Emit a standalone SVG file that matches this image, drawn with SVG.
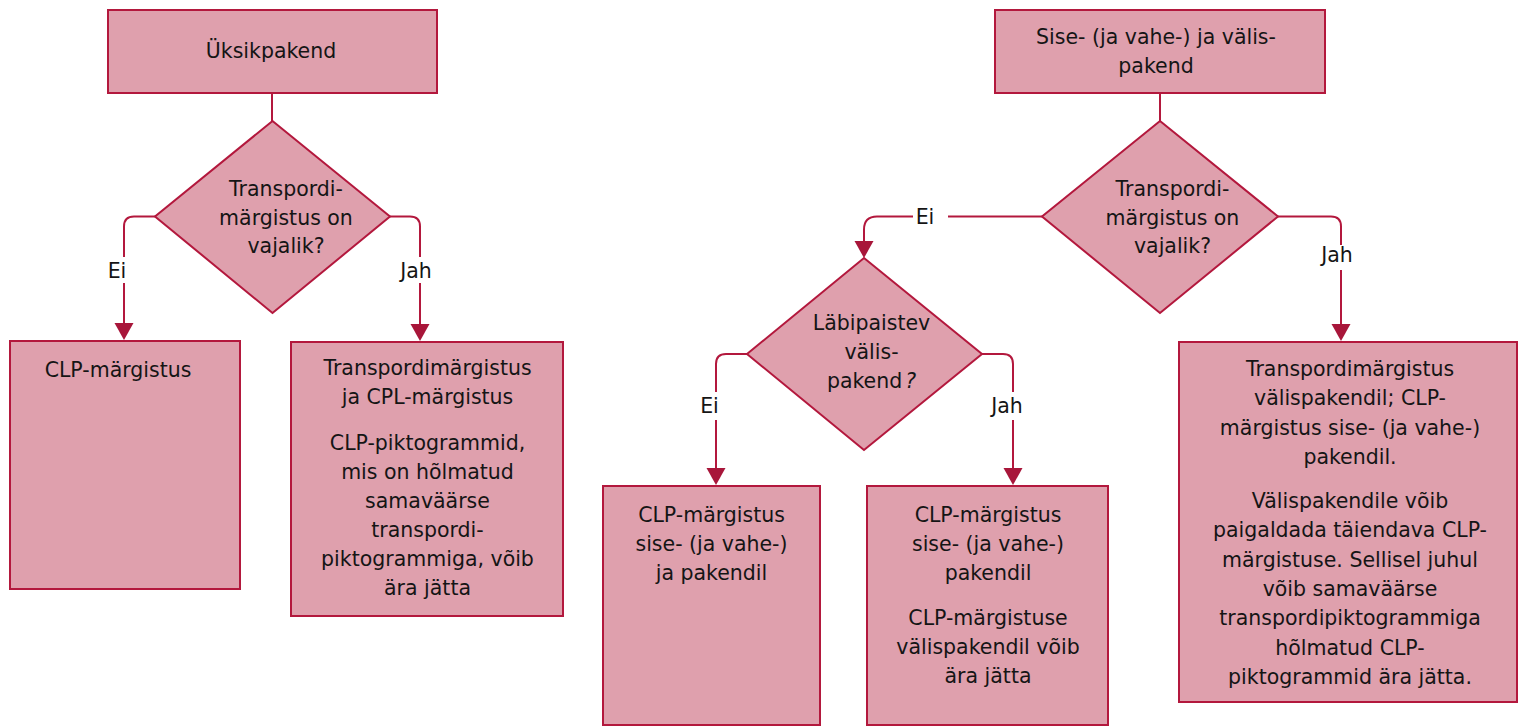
<svg xmlns="http://www.w3.org/2000/svg" width="1524" height="727" viewBox="0 0 1524 727">
<style>
.box{fill:#DFA0AD;stroke:#B3183D;stroke-width:2}
.ln{fill:none;stroke:#B3183D;stroke-width:2}
.t{font-family:"DejaVu Sans","Liberation Sans",sans-serif;font-size:20.5px;fill:#151515;text-anchor:middle}
</style>
<defs>
<marker id="ah" markerUnits="userSpaceOnUse" markerWidth="20" markerHeight="20" viewBox="0 0 18 20" refX="0" refY="10" orient="auto">
<path d="M0,0.5 L17,10 L0,19.5 z" fill="#A8163A"/>
</marker>
</defs>
<g id="connectors">
<path class="ln" d="M272,93 V121"/>
<path class="ln" d="M155,216.5 H134 Q124,216.5 124,226.5 V257"/>
<path class="ln" d="M124,283 V323" marker-end="url(#ah)"/>
<path class="ln" d="M390,216.5 H410 Q420,216.5 420,226.5 V257"/>
<path class="ln" d="M420,283 V324" marker-end="url(#ah)"/>
<path class="ln" d="M1160,93 V121"/>
<path class="ln" d="M1278,216.5 H1331 Q1341,216.5 1341,226.5 V245"/>
<path class="ln" d="M1341,270 V324" marker-end="url(#ah)"/>
<path class="ln" d="M1042,216.5 H948"/>
<path class="ln" d="M913,216.5 H877 Q864,216.5 864,229.5 V241" marker-end="url(#ah)"/>
<path class="ln" d="M747,354 H726 Q716,354 716,364 V392"/>
<path class="ln" d="M716,420 V468" marker-end="url(#ah)"/>
<path class="ln" d="M982,354 H1003 Q1013,354 1013,364 V392"/>
<path class="ln" d="M1013,420 V468" marker-end="url(#ah)"/>
<text class="t" x="117" y="278">Ei</text>
<text class="t" x="416" y="278">Jah</text>
<text class="t" x="1337" y="262">Jah</text>
<text class="t" x="925" y="224">Ei</text>
<text class="t" x="709.5" y="413">Ei</text>
<text class="t" x="1007" y="413">Jah</text>
</g>
<g id="n-uksikpakend">
<rect class="box" x="108" y="10" width="329" height="83"/>
<text class="t" x="271" y="58">Üksikpakend</text>
</g>
<g id="n-d1">
<polygon class="box" points="272.5,121 390,216.5 272.5,313 155,216.5"/>
<text class="t" x="286" y="196">Transpordi-</text>
<text class="t" x="286" y="224.5">märgistus on</text>
<text class="t" x="286" y="252.5">vajalik?</text>
</g>
<g id="n-clp1">
<rect class="box" x="10" y="341" width="230" height="248"/>
<text class="t" x="118" y="377">CLP-märgistus</text>
</g>
<g id="n-trans1">
<rect class="box" x="291" y="342" width="272" height="274"/>
<text class="t" x="427.5" y="375">Transpordimärgistus</text>
<text class="t" x="427.5" y="404">ja CPL-märgistus</text>
<text class="t" x="427.5" y="450">CLP-piktogrammid,</text>
<text class="t" x="427.5" y="479">mis on hõlmatud</text>
<text class="t" x="427.5" y="508">samaväärse</text>
<text class="t" x="427.5" y="537">transpordi-</text>
<text class="t" x="427.5" y="566">piktogrammiga, võib</text>
<text class="t" x="427.5" y="595">ära jätta</text>
</g>
<g id="n-sise">
<rect class="box" x="995" y="10" width="330" height="83"/>
<text class="t" x="1156" y="44">Sise- (ja vahe-) ja välis-</text>
<text class="t" x="1156" y="73">pakend</text>
</g>
<g id="n-d2">
<polygon class="box" points="1160,121 1278,216.5 1160,313 1042,216.5"/>
<text class="t" x="1172.5" y="196">Transpordi-</text>
<text class="t" x="1172.5" y="224.5">märgistus on</text>
<text class="t" x="1172.5" y="252.5">vajalik?</text>
</g>
<g id="n-d3">
<polygon class="box" points="864,258 982,354 864,450 747,354"/>
<text class="t" x="871.5" y="330">Läbipaistev</text>
<text class="t" x="871.5" y="359">välis-</text>
<text class="t" x="871.5" y="388">pakend<tspan dx="3" font-style="italic">?</tspan></text>
</g>
<g id="n-clp2">
<rect class="box" x="603" y="486" width="217" height="239"/>
<text class="t" x="711.5" y="522">CLP-märgistus</text>
<text class="t" x="711.5" y="551">sise- (ja vahe-)</text>
<text class="t" x="711.5" y="580">ja pakendil</text>
</g>
<g id="n-clp3">
<rect class="box" x="867" y="486" width="241" height="239"/>
<text class="t" x="988" y="522">CLP-märgistus</text>
<text class="t" x="988" y="551">sise- (ja vahe-)</text>
<text class="t" x="988" y="580">pakendil</text>
<text class="t" x="988" y="625">CLP-märgistuse</text>
<text class="t" x="988" y="654">välispakendil võib</text>
<text class="t" x="988" y="683">ära jätta</text>
</g>
<g id="n-trans2">
<rect class="box" x="1179" y="342" width="338" height="360"/>
<text class="t" x="1350" y="376">Transpordimärgistus</text>
<text class="t" x="1350" y="405.3">välispakendil; CLP-</text>
<text class="t" x="1350" y="434.6">märgistus sise- (ja vahe-)</text>
<text class="t" x="1350" y="463.9">pakendil.</text>
<text class="t" x="1350" y="508">Välispakendile võib</text>
<text class="t" x="1350" y="537.3">paigaldada täiendava CLP-</text>
<text class="t" x="1350" y="566.6">märgistuse. Sellisel juhul</text>
<text class="t" x="1350" y="595.9">võib samaväärse</text>
<text class="t" x="1350" y="625.2">transpordipiktogrammiga</text>
<text class="t" x="1350" y="654.5">hõlmatud CLP-</text>
<text class="t" x="1350" y="683.8">piktogrammid ära jätta.</text>
</g>
</svg>
